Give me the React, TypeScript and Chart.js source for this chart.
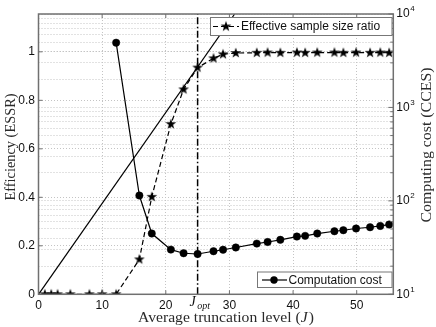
import React, { useEffect, useRef } from 'react';
import { Chart, registerables } from 'chart.js';

Chart.register(...registerables);

// ---------- data ----------
const essrJ = [1, 2, 3, 5, 8, 10, 12.2, 15.85, 17.8, 20.8, 22.8, 25, 27.5, 29, 31, 34.3, 36, 38, 40.6, 41.9, 43.8, 46.5, 47.9, 49.9, 52.1, 53.7, 55.1];
const essrValues = [0, 0, 0, 0, 0, 0, 0, 0.144, 0.402, 0.702, 0.845, 0.935, 0.973, 0.99, 0.995, 0.996, 0.997, 0.996, 0.997, 0.996, 0.997, 0.997, 0.996, 0.997, 0.996, 0.997, 0.996];

const costJ = [12.2, 15.85, 17.8, 20.8, 22.8, 25, 27.5, 29, 31, 34.3, 36, 38, 40.6, 41.9, 43.8, 46.5, 47.9, 49.9, 52.1, 53.7, 55.1];
const costValues = [4930, 114, 44.7, 30.1, 27.5, 27.0, 28.9, 30.0, 31.7, 34.9, 36.3, 38.3, 41.5, 42.2, 44.7, 47.3, 48.5, 50.6, 52.2, 53.9, 55.8];

const tangentJ = [0, 30.8];
const tangentEff = [0, 1.155];

const jOpt = 25;
const jOptSpan = [0, 1.156];

const xTicks = [0, 10, 20, 30, 40, 50];
const leftTicks = [0, 0.2, 0.4, 0.6, 0.8, 1];
const rightTickExps = [1, 2, 3, 4];

const essrLabel = 'Effective sample size ratio';
const costLabel = 'Computation cost';
const leftTitle = 'Efficiency (ESSR)';
const rightTitle = 'Computing cost (CCES)';
const xTitleParts = ['Average truncation level (', 'J', ')'];
const jOptLabel = ['J', 'opt'];

// ---------- helpers ----------
const SANS = '"Liberation Sans", Arial, sans-serif';
const SERIF = '"Liberation Serif", "Times New Roman", serif';

function makeStar(r: number, ri: number): HTMLCanvasElement {
  const s = Math.ceil(r * 2 + 2);
  const c = document.createElement('canvas');
  c.width = s;
  c.height = s;
  const ctx = c.getContext('2d')!;
  ctx.translate(s / 2, s / 2);
  ctx.beginPath();
  for (let i = 0; i < 10; i++) {
    const rad = i % 2 === 0 ? r : ri;
    const a = -Math.PI / 2 + (i * Math.PI) / 5;
    ctx.lineTo(rad * Math.cos(a), rad * Math.sin(a));
  }
  ctx.closePath();
  ctx.fillStyle = '#000';
  ctx.fill();
  return c;
}

const FRAME = '#707070';
const GRID = '#c4c4c4';

export default function App() {
  const ref = useRef<HTMLCanvasElement | null>(null);

  useEffect(() => {
    if (!ref.current) return;
    const star = makeStar(5.6, 2.2);

    const overlay = {
      id: 'overlay',
      afterDatasetsDraw(chart: any) {
        const { ctx, chartArea: a, scales } = chart;
        const xs = scales.x;
        const yl = scales.y;
        const yr = scales.y1;
        ctx.save();

        // frame
        ctx.strokeStyle = FRAME;
        ctx.lineWidth = 1.5;
        ctx.setLineDash([]);
        ctx.strokeRect(a.left, a.top, a.right - a.left, a.bottom - a.top);

        // inward ticks
        ctx.lineWidth = 1;
        ctx.beginPath();
        xTicks.forEach((v) => {
          const px = xs.getPixelForValue(v);
          ctx.moveTo(px, a.bottom);
          ctx.lineTo(px, a.bottom - 4);
          ctx.moveTo(px, a.top);
          ctx.lineTo(px, a.top + 4);
        });
        leftTicks.forEach((v) => {
          const py = yl.getPixelForValue(v);
          ctx.moveTo(a.left, py);
          ctx.lineTo(a.left + 4, py);
        });
        yr.ticks.forEach((t: any) => {
          const py = yr.getPixelForValue(t.value);
          const major = Math.abs(Math.log10(t.value) - Math.round(Math.log10(t.value))) < 1e-9;
          ctx.moveTo(a.right, py);
          ctx.lineTo(a.right - (major ? 5 : 3), py);
        });
        ctx.stroke();

        // right tick labels (10^n)
        ctx.fillStyle = '#111';
        ctx.textBaseline = 'middle';
        ctx.textAlign = 'left';
        rightTickExps.forEach((e) => {
          const py = yr.getPixelForValue(Math.pow(10, e));
          ctx.font = `12px ${SANS}`;
          ctx.fillText('10', a.right + 3, py);
          const w = ctx.measureText('10').width;
          ctx.font = `8px ${SANS}`;
          ctx.fillText(String(e), a.right + 3 + w + 0.5, py - 5);
        });

        // J_opt tick label
        const jx = xs.getPixelForValue(jOpt);
        ctx.textBaseline = 'alphabetic';
        ctx.font = `italic 14px ${SERIF}`;
        const wJ = ctx.measureText(jOptLabel[0]).width;
        ctx.font = `italic 10px ${SERIF}`;
        const wSub = ctx.measureText(jOptLabel[1]).width;
        const startJ = jx - (wJ + wSub + 1) / 2 + 2;
        ctx.font = `italic 14px ${SERIF}`;
        ctx.fillText(jOptLabel[0], startJ, 306);
        ctx.font = `italic 10px ${SERIF}`;
        ctx.fillText(jOptLabel[1], startJ + wJ + 1.5, 309);

        // x title, stretched horizontally to the reference width
        ctx.fillStyle = '#2a2a2a';
        let total = 0;
        xTitleParts.forEach((p, i) => {
          ctx.font = i === 1 ? `italic 14px ${SERIF}` : `14px ${SERIF}`;
          total += ctx.measureText(p).width + (i === 1 ? 1 : 0);
        });
        ctx.save();
        ctx.translate(138, 322);
        ctx.scale(176 / total, 1);
        let tx = 0;
        xTitleParts.forEach((p, i) => {
          ctx.font = i === 1 ? `italic 14px ${SERIF}` : `14px ${SERIF}`;
          ctx.fillText(p, tx, 0);
          tx += ctx.measureText(p).width + (i === 1 ? 1 : 0);
        });
        ctx.restore();

        // y titles
        ctx.font = `14px ${SERIF}`;
        ctx.textAlign = 'center';
        ctx.textBaseline = 'middle';
        const drawRot = (text: string, cx: number, cy: number, target: number) => {
          const w = ctx.measureText(text).width;
          ctx.save();
          ctx.translate(cx, cy);
          ctx.rotate(-Math.PI / 2);
          ctx.scale(target / w, 1);
          ctx.fillText(text, 0, 0);
          ctx.restore();
        };
        drawRot(leftTitle, 11, 147, 107);
        drawRot(rightTitle, 427, 145, 155);

        // legend 1 (ESSR)
        ctx.fillStyle = '#fff';
        ctx.fillRect(210, 17, 182, 18.5);
        ctx.strokeStyle = '#777';
        ctx.lineWidth = 1;
        ctx.strokeRect(210.5, 17.5, 181.5, 18);
        ctx.strokeStyle = '#000';
        ctx.lineWidth = 1.2;
        ctx.setLineDash([5, 3]);
        ctx.beginPath();
        ctx.moveTo(213, 26.5);
        ctx.lineTo(239, 26.5);
        ctx.stroke();
        ctx.setLineDash([]);
        ctx.drawImage(star, 226 - star.width / 2, 26.5 - star.height / 2);
        ctx.fillStyle = '#111';
        ctx.font = `12px ${SANS}`;
        ctx.textAlign = 'left';
        ctx.textBaseline = 'middle';
        ctx.fillText(essrLabel, 241, 27);

        // legend 2 (cost)
        ctx.fillStyle = '#fff';
        ctx.fillRect(257.5, 272, 134.5, 15.5);
        ctx.strokeStyle = '#777';
        ctx.lineWidth = 1;
        ctx.strokeRect(257.5, 272, 134.5, 15.5);
        ctx.strokeStyle = '#000';
        ctx.lineWidth = 1.2;
        ctx.beginPath();
        ctx.moveTo(262, 280);
        ctx.lineTo(287, 280);
        ctx.stroke();
        ctx.fillStyle = '#000';
        ctx.beginPath();
        ctx.arc(274, 280, 3.7, 0, Math.PI * 2);
        ctx.fill();
        ctx.fillStyle = '#111';
        ctx.fillText(costLabel, 288.5, 280.5);

        ctx.restore();
      },
    };

    const chart = new Chart(ref.current, {
      type: 'line',
      data: {
        datasets: [
          {
            label: 'tangent',
            data: tangentJ.map((x, i) => ({ x, y: tangentEff[i] })),
            yAxisID: 'y',
            borderColor: '#000',
            borderWidth: 1.2,
            pointRadius: 0,
            fill: false,
          },
          {
            label: 'Jopt',
            data: jOptSpan.map((y) => ({ x: jOpt, y })),
            yAxisID: 'y',
            borderColor: '#000',
            borderWidth: 1.5,
            borderDash: [7, 2.5, 1.5, 2.5],
            pointRadius: 0,
            fill: false,
          },
          {
            label: essrLabel,
            data: essrJ.map((x, i) => ({ x, y: essrValues[i] })),
            yAxisID: 'y',
            borderColor: '#000',
            borderWidth: 1.2,
            borderDash: [5, 3],
            pointStyle: star,
            pointRadius: 6,
            fill: false,
          },
          {
            label: costLabel,
            data: costJ.map((x, i) => ({ x, y: costValues[i] })),
            yAxisID: 'y1',
            borderColor: '#000',
            borderWidth: 1.2,
            pointStyle: 'circle',
            pointRadius: 3.7,
            pointBackgroundColor: '#000',
            pointBorderColor: '#000',
            pointBorderWidth: 0.5,
            fill: false,
          },
        ],
      },
      options: {
        responsive: false,
        animation: false,
        devicePixelRatio: 1,
        layout: { padding: { top: 14, left: 0, right: 0, bottom: 0 } },
        plugins: { legend: { display: false }, tooltip: { enabled: false } },
        elements: { line: { tension: 0 } },
        scales: {
          x: {
            type: 'linear',
            min: 0,
            max: 55.75,
            afterBuildTicks: (s: any) => {
              s.ticks = xTicks.map((v) => ({ value: v }));
            },
            afterFit: (s: any) => {
              s.height = 32.7;
            },
            grid: { color: GRID, lineWidth: 1, drawTicks: false },
            border: { display: false, dash: [1, 2] },
            ticks: {
              padding: 4,
              color: '#111',
              font: { family: SANS, size: 12 },
              autoSkip: false,
              maxRotation: 0,
              callback: (v: any) => String(v),
            },
          },
          y: {
            type: 'linear',
            position: 'left',
            min: 0,
            max: 1.156,
            afterBuildTicks: (s: any) => {
              s.ticks = leftTicks.map((v) => ({ value: v }));
            },
            afterFit: (s: any) => {
              s.width = 38.5;
            },
            grid: { color: GRID, lineWidth: 1, drawTicks: false },
            border: { display: false, dash: [1, 2] },
            ticks: {
              padding: 3.5,
              color: '#111',
              font: { family: SANS, size: 12 },
              autoSkip: false,
              callback: (v: any) => String(Math.round(Number(v) * 10) / 10),
            },
          },
          y1: {
            type: 'logarithmic',
            position: 'right',
            min: 10,
            max: 10000,
            afterBuildTicks: (s: any) => {
              const t: any[] = [];
              for (let e = 1; e <= 3; e++) {
                for (let m = 1; m <= 9; m++) t.push({ value: m * Math.pow(10, e) });
              }
              t.push({ value: 10000 });
              s.ticks = t;
            },
            afterFit: (s: any) => {
              s.width = 42.7;
            },
            grid: { color: GRID, lineWidth: 1, drawTicks: false },
            border: { display: false, dash: [1, 2] },
            ticks: { display: false, autoSkip: false, callback: () => '' },
          },
        },
      },
      plugins: [overlay],
    } as any);

    return () => chart.destroy();
  }, []);

  return (
    <div style={{ position: 'fixed', left: 0, top: 0, width: 436, height: 327, background: '#fff' }}>
      <canvas ref={ref} width={436} height={327} style={{ display: 'block' }} />
    </div>
  );
}
